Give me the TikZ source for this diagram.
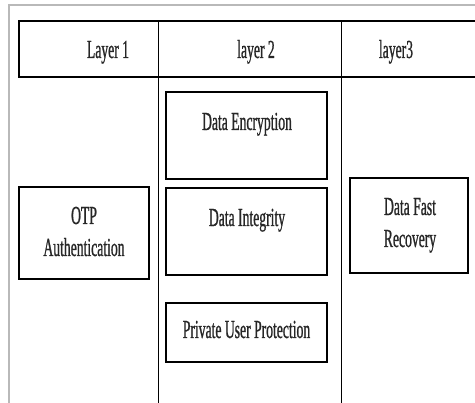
\documentclass[tikz,border=0pt]{standalone}
\usepackage{fontspec}
\setmainfont{Liberation Serif}[FakeStretch=0.525,FakeBold=0.8]
\begin{document}
\begin{tikzpicture}[x=1pt,y=-1pt,
  box/.style={draw=black, line width=1.7pt, inner sep=0pt, rectangle},
  lbl/.style={anchor=base, inner sep=0pt, align=center, text=black!85, font=\fontsize{26}{32}\selectfont},
  grid/.style={draw=black, line width=1.8pt}]
\useasboundingbox (0,0) rectangle (475,403);
\fill[white] (0,0) rectangle (475,403);
% outer gray frame
\draw[gray!55, line width=1.6pt] (9,410) -- (9,5) -- (480,5);
% header row and column dividers
\coordinate (hl) at (19,21);
\coordinate (hr) at (485,77);
\draw[grid] (hl) rectangle (hr);
\coordinate (d1t) at (158.5,21);
\coordinate (d1b) at (158.5,410);
\coordinate (d2t) at (341.5,21);
\coordinate (d2b) at (341.5,410);
\draw[grid] (d1t) -- (d1b);
\draw[grid] (d2t) -- (d2b);
% header labels
\node[lbl] (h1) at (108,58) {Layer 1};
\node[lbl] (h2) at (256,58) {layer 2};
\node[lbl] (h3) at (396,58) {layer3};
% boxes
\node[box, minimum width=161pt, minimum height=87pt] (enc) at (246.5,135.5) {};
\node[box, minimum width=161pt, minimum height=87pt] (integ) at (246.5,231.5) {};
\node[box, minimum width=130pt, minimum height=92pt] (otp) at (84,233) {};
\node[box, minimum width=118pt, minimum height=95pt] (dfr) at (409,225.5) {};
\node[box, minimum width=161pt, minimum height=59pt] (pup) at (246.5,332.5) {};
% texts
\node[lbl] (tenc) at (247,130) {Data Encryption};
\node[lbl] (tint) at (247,226) {Data Integrity};
\node[lbl] (totp) at (84,256) {OTP\\Authentication};
\node[lbl] (tdfr) at (410,247) {Data Fast\\Recovery};
\node[lbl] (tpup) at (246.5,338) {Private User Protection};
\end{tikzpicture}
\end{document}
